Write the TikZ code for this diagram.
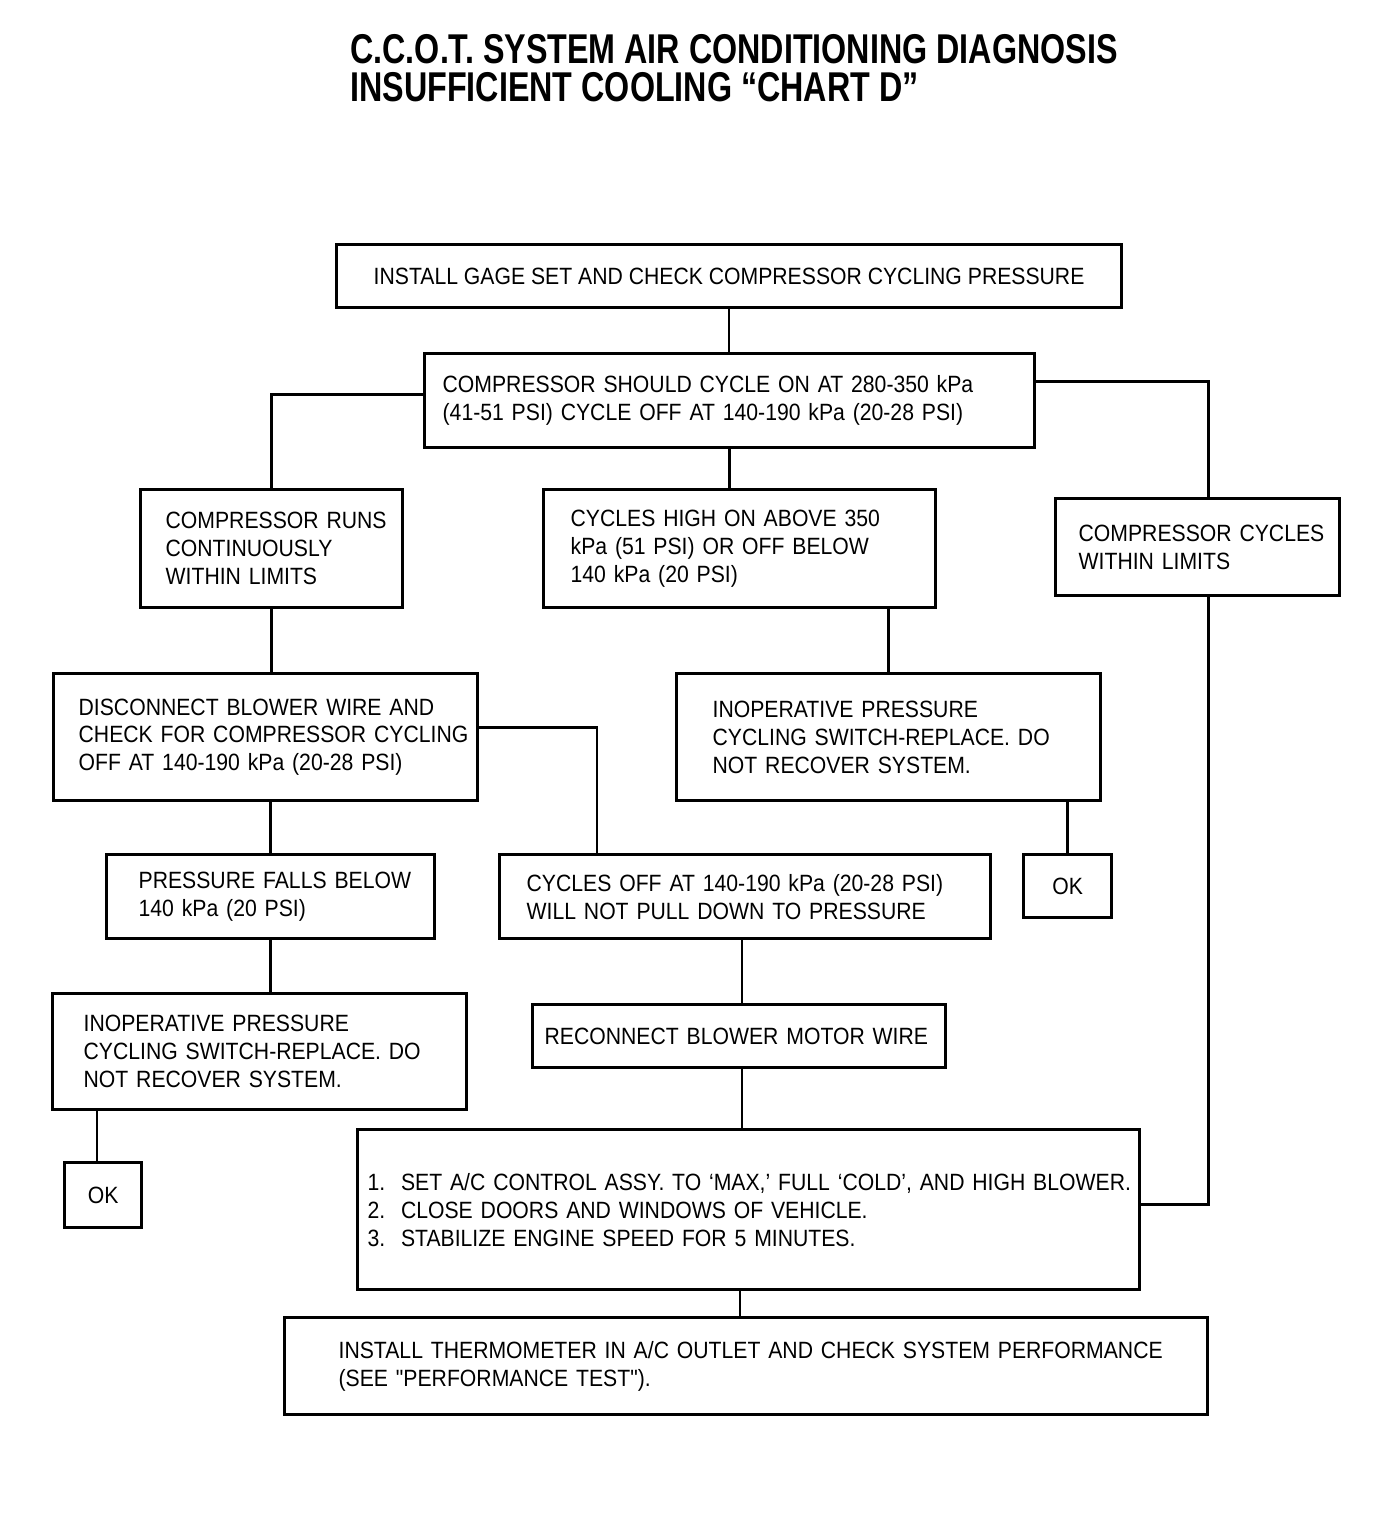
\documentclass[tikz,border=0pt]{standalone}
\usepackage{fontspec}
\newfontfamily\chartfont[FakeStretch=0.9]{Liberation Sans}
\newfontfamily\titlefont[FakeStretch=0.775]{Liberation Sans}
\usetikzlibrary{calc}
\newcommand\boxfont{\chartfont\fontsize{13.4}{15.9}\selectfont\hyphenpenalty 10000 }
\newcommand\oneline[1]{\mbox{#1}}

\tikzset{
    box/.style={draw, line width=1.9pt, anchor=north west, align=left,
        inner ysep=0pt, font=\boxfont},
    okbox/.style={box, align=center, minimum width=#1},
    wire/.style={line width=1.4pt},
}

\begin{document}
\begin{tikzpicture}[x=0.02cm, y=-0.02cm]
            \useasboundingbox (0,0) rectangle (1376,1534);

            % Title
            \node[anchor=base west, inner sep=0pt, align=left,
                font=\titlefont\bfseries\fontsize{23.7}{22.1}\selectfont]
                (title) at (350,102) {C.C.O.T. SYSTEM AIR CONDITIONING DIAGNOSIS\\
                INSUFFICIENT COOLING “CHART D”};

            % Boxes
            \node[box, align=center, minimum width=15.7cm, minimum height=1.26cm] (gage) at (335,243)
                {INSTALL GAGE SET AND CHECK COMPRESSOR CYCLING PRESSURE};
            \node[box, text width=11.48cm, inner xsep=0.36cm, minimum height=1.88cm] (should) at (423,352)
                {COMPRESSOR SHOULD CYCLE ON AT 280-350 kPa\\(41-51 PSI) CYCLE OFF AT 140-190 kPa (20-28 PSI)};
            \node[box, text width=4.24cm, inner xsep=0.5cm, minimum height=2.36cm] (runs) at (139,488)
                {\oneline{COMPRESSOR RUNS}\\CONTINUOUSLY\\WITHIN LIMITS};
            \node[box, text width=6.76cm, inner xsep=0.54cm, minimum height=2.36cm] (high) at (542,488)
                {CYCLES HIGH ON ABOVE 350\\kPa (51 PSI) OR OFF BELOW\\140 kPa (20 PSI)};
            \node[box, text width=4.76cm, inner xsep=0.46cm, minimum height=1.94cm] (limits) at (1054,497)
                {\oneline{COMPRESSOR CYCLES}\\WITHIN LIMITS};
            \node[box, text width=7.48cm, inner xsep=0.5cm, minimum height=2.54cm] (blower) at (52,672)
                {DISCONNECT BLOWER WIRE AND\\\oneline{CHECK FOR COMPRESSOR CYCLING}\\OFF AT 140-190 kPa (20-28 PSI)};
            \node[box, text width=7.04cm, inner xsep=0.72cm, minimum height=2.54cm] (switchR) at (675,672)
                {INOPERATIVE PRESSURE\\CYCLING SWITCH-REPLACE. DO\\NOT RECOVER SYSTEM.};
            \node[box, text width=5.28cm, inner xsep=0.64cm, minimum height=1.68cm] (falls) at (105,853)
                {\oneline{PRESSURE FALLS BELOW}\\140 kPa (20 PSI)};
            \node[box, text width=8.74cm, inner xsep=0.54cm, minimum height=1.68cm] (off) at (498,853)
                {CYCLES OFF AT 140-190 kPa (20-28 PSI)\\WILL NOT PULL DOWN TO PRESSURE};
            \node[okbox=1.76cm, minimum height=1.26cm] (okR) at (1022,853) {OK};
            \node[box, text width=7.04cm, inner xsep=0.62cm, minimum height=2.32cm] (switchL) at (51,992)
                {INOPERATIVE PRESSURE\\CYCLING SWITCH-REPLACE. DO\\NOT RECOVER SYSTEM.};
            \node[box, text width=7.78cm, inner xsep=0.24cm, minimum height=1.26cm] (reconnect) at (531,1003)
                {RECONNECT BLOWER MOTOR WIRE};
            \node[okbox=1.54cm, minimum height=1.3cm] (okL) at (63,1161) {OK};
            \node[box, text width=15.24cm, inner xsep=0.2cm, minimum height=3.2cm] (steps) at (356,1128)
                {\oneline{1.\ \ SET A/C CONTROL ASSY. TO ‘MAX,’ FULL ‘COLD’, AND HIGH BLOWER.}\\
                 2.\ \ CLOSE DOORS AND WINDOWS OF VEHICLE.\\
                 3.\ \ STABILIZE ENGINE SPEED FOR 5 MINUTES.};
            \node[box, text width=16.3cm, inner xsep=1.08cm, minimum height=1.94cm] (thermo) at (283,1316)
                {\oneline{INSTALL THERMOMETER IN A/C OUTLET AND CHECK SYSTEM PERFORMANCE}\\(SEE "PERFORMANCE TEST").};

            % Draw connectors
            \draw[wire] (gage.south) -- (gage.south |- should.north);
            \draw[wire] ([yshift=0.12cm]should.west) -| (runs.north);
            \draw[wire] ([yshift=0.38cm]should.east) -| ([xshift=0.22cm]limits.north);
            \draw[wire] (should.south) -- (should.south |- high.north);
            \draw[wire] (runs.south) -- (runs.south |- blower.north);
            \draw[wire] (switchR.north) -- (switchR.north |- high.south);
            \draw[wire] ([yshift=0.19cm]blower.east) -| ([xshift=1.98cm]off.north west);
            \draw[wire] (falls.north) -- (falls.north |- blower.south);
            \draw[wire] (okR.north) -- (okR.north |- switchR.south);
            \draw[wire] (falls.south) -- (falls.south |- switchL.north);
            \draw[wire] ([xshift=0.06cm]reconnect.north |- off.south) -- ([xshift=0.06cm]reconnect.north);
            \draw[wire] ([xshift=-0.12cm]okL.north) -- ([xshift=-0.12cm]okL.north |- switchL.south);
            \draw[wire] ([xshift=0.06cm]reconnect.south) -- ([xshift=0.06cm]reconnect.south |- steps.north);
            \draw[wire] ([xshift=0.22cm]limits.south) |- ([yshift=0.1cm]steps.east);
            \draw[wire] ([xshift=0.02cm]reconnect.south |- steps.south) -- ([xshift=0.02cm]reconnect.south |- thermo.north);
        \end{tikzpicture}
\end{document}
